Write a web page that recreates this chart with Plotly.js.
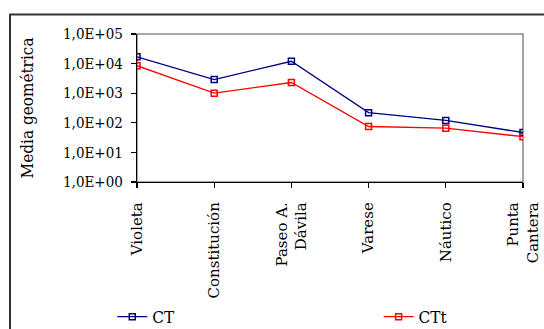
<!DOCTYPE html>
<html><head><meta charset="utf-8">
<script src="https://cdn.plot.ly/plotly-3.0.1.min.js"></script>
<style>html,body{margin:0;padding:0;background:#fff;}#chart{width:544px;height:329px;}</style>
</head><body><div id="chart"></div>
<script>
const categories = ["Violeta", "Constitución", "Paseo A.<br>Dávila", "Varese", "Náutico", "Punta<br>Cantera"];
const ctValues = [17000, 2900, 12000, 220, 120, 47];
const cttValues = [8500, 1000, 2300, 75, 66, 34];
const yTickVals = [1, 10, 100, 1000, 10000, 100000];
const yTickText = ["1,0E+00", "1,0E+01", "1,0E+02", "1,0E+03", "1,0E+04", "1,0E+05"];

const fontC = {family: "DejaVu Serif Condensed, DejaVu Serif", size: 15, color: "#000"};
const fontT = {family: "DejaVu Serif Condensed, DejaVu Serif", size: 17, color: "#000"};
const fontB = {family: "DejaVu Serif", size: 15, color: "#000"};
const traces = [
  {x: categories, y: ctValues, name: "CT", type: "scatter", mode: "lines+markers", legend: "legend",
   line: {color: "#000080", width: 1.3},
   marker: {symbol: "square-open", size: 6, color: "#000080", line: {width: 1.5, color: "#000080"}}},
  {x: categories, y: cttValues, name: "CTt", type: "scatter", mode: "lines+markers", legend: "legend2",
   line: {color: "#ff0000", width: 1.3},
   marker: {symbol: "square-open", size: 6, color: "#ff0000", line: {width: 1.5, color: "#ff0000"}}}
];
const layout = {
  width: 544, height: 329,
  margin: {l: 137, r: 21, t: 34, b: 147, pad: 0},
  paper_bgcolor: "#fff", plot_bgcolor: "#fff",
  font: fontC,
  showlegend: true,
  legend: {orientation: "h", xref: "container", yref: "container",
           x: 0.2064, xanchor: "left", y: 0.036, yanchor: "middle",
           font: fontT, bgcolor: "rgba(0,0,0,0)"},
  legend2: {orientation: "h", xref: "container", yref: "container",
           x: 0.696, xanchor: "left", y: 0.036, yanchor: "middle",
           font: fontT, bgcolor: "rgba(0,0,0,0)"},
  xaxis: {type: "category", range: [0, 5], showgrid: false, zeroline: false,
          showline: true, linecolor: "#000", linewidth: 1.2,
          ticks: "outside", ticklen: 5, tickcolor: "#000", tickwidth: 1.2,
          ticklabelstandoff: 8,
          tickangle: -90, tickfont: fontB, automargin: false},
  yaxis: {type: "log", range: [0, 5], showgrid: false, zeroline: false,
          showline: true, linecolor: "#000", linewidth: 1.2,
          ticks: "outside", ticklen: 5, tickcolor: "#000", tickwidth: 1.2,
          ticklabelstandoff: 5,
          tickvals: yTickVals, ticktext: yTickText, tickfont: fontC,
          title: {text: "Media geométrica", font: fontT, standoff: 25}, automargin: false},
  shapes: [
    {type: "rect", xref: "paper", yref: "paper", x0: 0, x1: 1, y0: 0, y1: 1,
     line: {color: "#888", width: 1.5}, layer: "below"},
    {type: "rect", xref: "paper", yref: "paper", x0: -0.329, x1: 1.2, y0: -2, y1: 1.131,
     line: {color: "#333", width: 2}, layer: "below"}
  ]
};
Plotly.newPlot("chart", traces, layout, {displayModeBar: false, staticPlot: true});
</script></body></html>
